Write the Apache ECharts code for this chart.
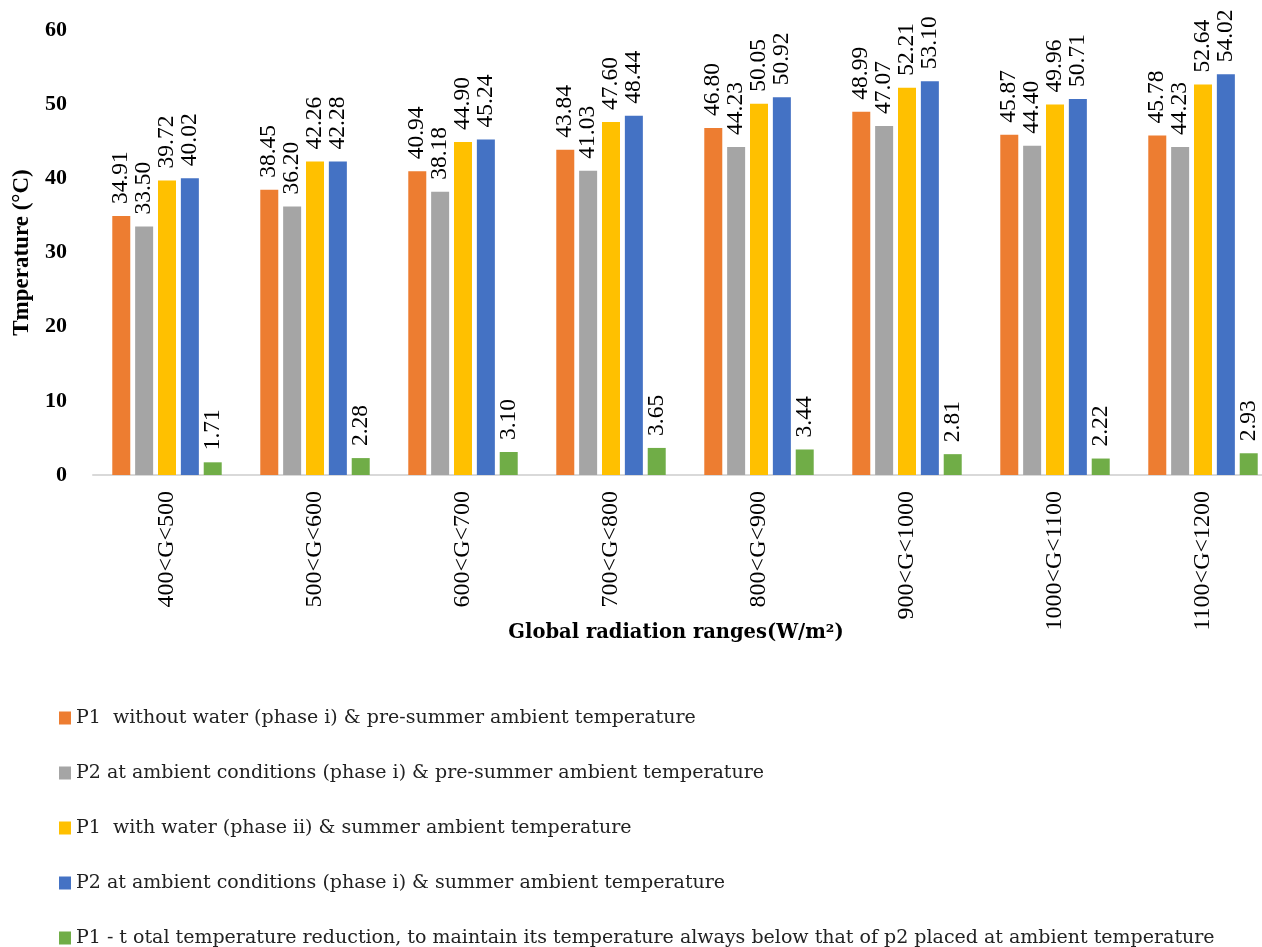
<!DOCTYPE html>
<html>
<head>
<meta charset="utf-8">
<script src="https://cdn.jsdelivr.net/npm/echarts@6/dist/echarts.min.js"></script>
<style>
  html, body { margin: 0; padding: 0; background: #fff; }
  #chart { width: 1262px; height: 947px; }
</style>
</head>
<body>
<div id="chart"></div>
<script>
// Radiation ranges on the category axis
const categories = ['400<G<500', '500<G<600', '600<G<700', '700<G<800', '800<G<900', '900<G<1000', '1000<G<1100', '1100<G<1200'];

// Panel temperatures per radiation range (°C)
const p1WithoutWater = [34.91, 38.45, 40.94, 43.84, 46.80, 48.99, 45.87, 45.78];
const p2PreSummer    = [33.50, 36.20, 38.18, 41.03, 44.23, 47.07, 44.40, 44.23];
const p1WithWater    = [39.72, 42.26, 44.90, 47.60, 50.05, 52.21, 49.96, 52.64];
const p2Summer       = [40.02, 42.28, 45.24, 48.44, 50.92, 53.10, 50.71, 54.02];
const p1Reduction    = [1.71, 2.28, 3.10, 3.65, 3.44, 2.81, 2.22, 2.93];

const seriesNames = [
  'P1  without water (phase i) & pre-summer ambient temperature',
  'P2 at ambient conditions (phase i) & pre-summer ambient temperature',
  'P1  with water (phase ii) & summer ambient temperature',
  'P2 at ambient conditions (phase i) & summer ambient temperature',
  'P1 - t otal temperature reduction, to maintain its temperature always below that of p2 placed at ambient temperature'
];
const seriesData = [p1WithoutWater, p2PreSummer, p1WithWater, p2Summer, p1Reduction];
const colors = ['#ED7D31', '#A5A5A5', '#FFC000', '#4472C4', '#70AD47'];

// Y axis ticks
const yMin = 0, yMax = 60, yStep = 10;

const SERIF = '"Liberation Serif", "Times New Roman", serif';
const WIDE_SERIF = '"DejaVu Serif", serif';

const chart = echarts.init(document.getElementById('chart'));

chart.setOption({
  animation: false,
  color: colors,
  textStyle: { fontFamily: SERIF },
  // plot area runs a little past the right edge of the canvas
  grid: { left: 93, width: 1184, top: 30, height: 445, outerBoundsMode: 'none', containLabel: false },
  legend: {
    orient: 'vertical',
    left: 59,
    top: 707,
    height: 300,
    padding: 0,
    itemWidth: 12,
    itemHeight: 13,
    itemGap: 33,
    icon: 'rect',
    textStyle: { fontFamily: WIDE_SERIF, fontSize: 19, lineHeight: 22, color: '#222' },
    data: seriesNames
  },
  xAxis: {
    type: 'category',
    data: categories,
    name: 'Global radiation ranges(W/m²)',
    nameLocation: 'middle',
    nameGap: 148,
    nameMoveOverlap: false,
    nameTextStyle: { fontFamily: WIDE_SERIF, fontSize: 19.5, fontWeight: 'bold', color: '#000', padding: [0, 18, 0, 0] },
    axisLine: { lineStyle: { color: '#D9D9D9', width: 2 } },
    axisTick: { show: false },
    axisLabel: { rotate: 90, margin: 16, fontFamily: SERIF, fontSize: 24, color: '#000' }
  },
  yAxis: {
    type: 'value',
    min: yMin,
    max: yMax,
    interval: yStep,
    name: 'Tmperature (°C)',
    nameLocation: 'middle',
    nameGap: 59,
    nameMoveOverlap: false,
    nameTextStyle: { fontFamily: SERIF, fontSize: 23, fontWeight: 'bold', color: '#000' },
    axisLine: { show: false },
    axisTick: { show: false },
    splitLine: { show: false },
    axisLabel: { margin: 26, fontFamily: SERIF, fontSize: 22, fontWeight: 'bold', color: '#000' }
  },
  series: seriesData.map((d, i) => ({
    name: seriesNames[i],
    type: 'bar',
    data: d,
    barWidth: 18,
    barGap: '27%',
    label: {
      show: true,
      position: 'top',
      rotate: 90,
      align: 'left',
      verticalAlign: 'middle',
      distance: 12,
      fontFamily: SERIF,
      fontSize: 23.5,
      color: '#000',
      formatter: p => p.value.toFixed(2)
    }
  }))
});
</script>
</body>
</html>
